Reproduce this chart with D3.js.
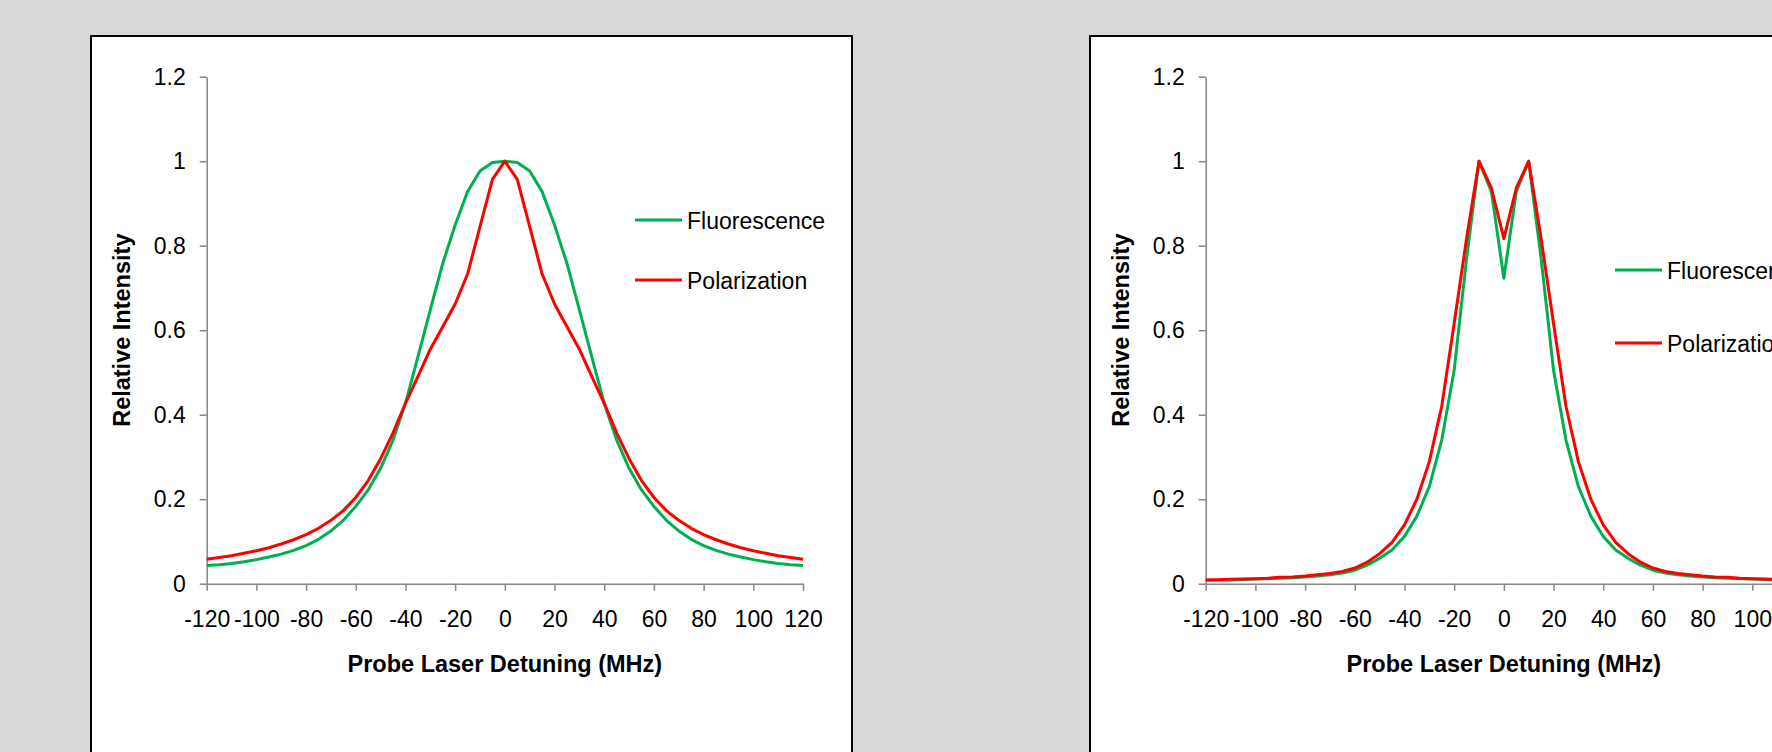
<!doctype html>
<html lang="en">
<head>
<meta charset="UTF-8">
<title>Fluorescence and Polarization</title>
<style>
  html, body { margin: 0; padding: 0; background: #d9d9d9; overflow: hidden; }
  svg { display: block; }
  text { font-family: "Liberation Sans", Arial, sans-serif; fill: #000; }
</style>
</head>
<body>
<svg id="chart" width="1772" height="752"></svg>
<script src="https://cdn.jsdelivr.net/npm/d3@7"></script>
<script>
  // x values (MHz), one point every 5 MHz
  const detuning = [-120, -115, -110, -105, -100, -95, -90, -85, -80, -75, -70, -65, -60, -55, -50, -45, -40, -35, -30, -25, -20, -15, -10, -5,
    0, 5, 10, 15, 20, 25, 30, 35, 40, 45, 50, 55, 60, 65, 70, 75, 80, 85, 90, 95, 100, 105, 110, 115, 120]

  // left chart
  const fluorLeft = [0.043, 0.045, 0.048, 0.052, 0.057, 0.063, 0.070, 0.079, 0.090, 0.105, 0.125, 0.150, 0.183, 0.222, 0.273, 0.340, 0.427, 0.537, 0.648, 0.758, 0.849, 0.928, 0.977, 0.997,
    1.0, 0.997, 0.977, 0.928, 0.849, 0.758, 0.648, 0.537, 0.427, 0.340, 0.273, 0.222, 0.183, 0.150, 0.125, 0.105, 0.090, 0.079, 0.070, 0.063, 0.057, 0.052, 0.048, 0.045, 0.043]
  const polarLeft = [0.058, 0.062, 0.066, 0.072, 0.078, 0.085, 0.094, 0.104, 0.116, 0.131, 0.150, 0.173, 0.204, 0.244, 0.296, 0.357, 0.427, 0.490, 0.555, 0.608, 0.662, 0.733, 0.845, 0.957,
    1.0, 0.957, 0.845, 0.733, 0.662, 0.608, 0.555, 0.490, 0.427, 0.357, 0.296, 0.244, 0.204, 0.173, 0.150, 0.131, 0.116, 0.104, 0.094, 0.085, 0.078, 0.072, 0.066, 0.062, 0.058]

  // right chart
  const fluorRight = [0.008, 0.0085, 0.009, 0.010, 0.011, 0.012, 0.013, 0.014, 0.016, 0.018, 0.021, 0.025, 0.032, 0.044, 0.060, 0.080, 0.112, 0.160, 0.230, 0.340, 0.505, 0.770, 1.0, 0.928,
    0.723, 0.928, 1.0, 0.770, 0.505, 0.340, 0.230, 0.160, 0.112, 0.080, 0.060, 0.044, 0.032, 0.025, 0.021, 0.018, 0.016, 0.014, 0.013, 0.012, 0.011, 0.010, 0.009, 0.0085, 0.008]
  const polarRight = [0.009, 0.0095, 0.0105, 0.011, 0.012, 0.013, 0.015, 0.016, 0.018, 0.021, 0.024, 0.029, 0.037, 0.051, 0.071, 0.098, 0.139, 0.200, 0.289, 0.420, 0.616, 0.817, 1.0, 0.936,
    0.817, 0.936, 1.0, 0.817, 0.616, 0.420, 0.289, 0.200, 0.139, 0.098, 0.071, 0.051, 0.037, 0.029, 0.024, 0.021, 0.018, 0.016, 0.015, 0.013, 0.012, 0.011, 0.0105, 0.0095, 0.009]

  const xTicks = [-120, -100, -80, -60, -40, -20, 0, 20, 40, 60, 80, 100, 120]
  const yTicks = [0, 0.2, 0.4, 0.6, 0.8, 1, 1.2]
  const seriesNames = ['Fluorescence', 'Polarization']
  const seriesColors = ['#00b050', '#ff0000']

  const svg = d3.select('#chart')

  function drawPanel(offsetX, fluor, polar, legend) {
    const g = svg.append('g').attr('transform', `translate(${offsetX},0)`)

    g.append('rect')
      .attr('x', 91).attr('y', 36)
      .attr('width', 761).attr('height', 760)
      .attr('fill', '#fff')
      .attr('stroke', '#000')
      .attr('stroke-width', 2)

    const x = d3.scaleLinear().domain([-120, 120]).range([206.7, 803])
    const y = d3.scaleLinear().domain([0, 1.2]).range([583.7, 76.7])

    const yAxis = g.append('g')
      .attr('transform', `translate(${x(-120)},0)`)
      .call(d3.axisLeft(y).tickValues(yTicks).tickSize(7).tickSizeOuter(0).tickPadding(14).tickFormat(String))
    const xAxis = g.append('g')
      .attr('transform', `translate(0,${y(0)})`)
      .call(d3.axisBottom(x).tickValues(xTicks).tickSize(7).tickSizeOuter(0).tickPadding(20).tickFormat(String))

    ;[xAxis, yAxis].forEach(a => {
      a.select('.domain').attr('stroke', '#868686').attr('stroke-width', 1.5)
      a.selectAll('.tick line').attr('stroke', '#868686').attr('stroke-width', 1.5)
      a.selectAll('.tick text').attr('font-size', 23).attr('font-family', '"Liberation Sans", Arial, sans-serif').attr('fill', '#000')
    })

    g.append('text')
      .attr('x', (x(-120) + x(120)) / 2).attr('y', 672)
      .attr('text-anchor', 'middle')
      .attr('font-size', 23.5).attr('font-weight', 'bold')
      .text('Probe Laser Detuning (MHz)')

    g.append('text')
      .attr('transform', `translate(130,${(y(0) + y(1.2)) / 2}) rotate(-90)`)
      .attr('text-anchor', 'middle')
      .attr('font-size', 23.5).attr('font-weight', 'bold')
      .text('Relative Intensity')

    const line = d3.line()
      .x((d, i) => x(detuning[i]))
      .y(d => y(d))

    ;[fluor, polar].forEach((vals, i) => {
      g.append('path')
        .attr('d', line(vals))
        .attr('fill', 'none')
        .attr('stroke', seriesColors[i])
        .attr('stroke-width', 3)
        .attr('stroke-linejoin', 'round')
    })

    // legend
    seriesNames.forEach((name, i) => {
      const ly = legend.y[i]
      g.append('line')
        .attr('x1', legend.x).attr('x2', legend.x + 47)
        .attr('y1', ly).attr('y2', ly)
        .attr('stroke', seriesColors[i]).attr('stroke-width', 3)
      g.append('text')
        .attr('x', legend.x + 52).attr('y', ly + 8.5)
        .attr('font-size', 23)
        .text(name)
    })
  }

  drawPanel(0, fluorLeft, polarLeft, { x: 635, y: [220, 280] })
  drawPanel(999, fluorRight, polarRight, { x: 616, y: [270, 343] })
</script>
</body>
</html>
